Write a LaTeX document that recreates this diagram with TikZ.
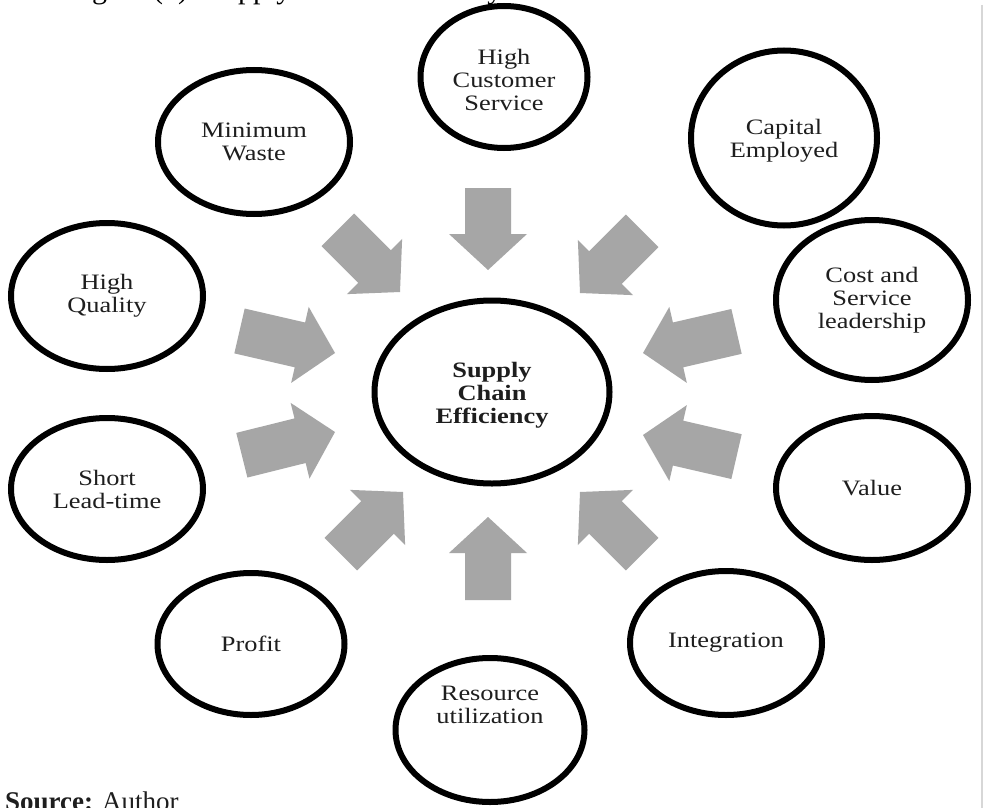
\documentclass[tikz,border=0pt]{standalone}
\usepackage{fontspec}
\setmainfont{Liberation Serif}
\newfontfamily\diagfont{Liberation Serif}[FakeStretch=1.2]
\usetikzlibrary{shapes.geometric}
\definecolor{arrowgray}{RGB}{166,166,166}
\definecolor{edgegray}{RGB}{215,215,215}
\definecolor{txt}{RGB}{30,30,30}
\newcommand\garr[3]{\fill[garrow,shift={(#1)},rotate=#2] (0,0) -- (-36,-39) -- (-36,-23) -- (-#3,-23) -- (-#3,23) -- (-36,23) -- (-36,39) -- cycle;}
% struts that move a node's text down (first line) or up (last line)
\newcommand\topstrut[1]{\rule{0pt}{#1}}
\newcommand\botstrut[1]{\rule[-#1]{0pt}{#1}}
\begin{document}
\begin{tikzpicture}[x=1pt,y=-1pt,
  bub/.style={ellipse,draw=black,line width=6pt,fill=white,inner sep=0pt,align=center,
    font=\diagfont\fontsize{22}{23}\selectfont,text=txt},
  garrow/.style={fill=arrowgray}]
\useasboundingbox (0,0) rectangle (985,808);
\clip (0,0) rectangle (985,808);
\fill[white] (0,0) rectangle (985,808);
% cropped caption and source
\node[anchor=base west,inner sep=0pt,font=\fontsize{30}{30}\selectfont,text=black] (title) at (67,-1.5) {Figure (1): Supply Chain Efficiency};
\node[anchor=base west,inner sep=0pt,font=\fontsize{27}{27}\selectfont,text=txt] (src) at (5,810) {\textbf{Source:} Author};
\draw[edgegray,line width=2pt] (982,5) -- (982,808);
% arrows
\garr{488,270}{-90}{82}
\garr{400,292}{-45}{88}
\garr{580,293}{-135}{88}
\garr{335,353}{-13}{98}
\garr{335,432}{14}{96}
\garr{403,492}{45}{88}
\garr{488,517}{90}{83}
\garr{580,492}{135}{88}
\garr{643,435}{167}{96}
\garr{643,353}{-167}{96}
% bubbles
\node[bub,minimum width=235pt,minimum height=183pt] (sce) at (492,392) {\topstrut{21pt}\textbf{Supply}\\\textbf{Chain}\\\textbf{Efficiency}};
\node[bub,minimum width=167pt,minimum height=142pt] (hcs) at (504,77) {\topstrut{22pt}High\\Customer\\Service};
\node[bub,minimum width=192pt,minimum height=144pt] (mw) at (254,142) {Minimum\\Waste};
\node[bub,minimum width=186pt,minimum height=175pt] (ce) at (784,138) {\topstrut{20pt}Capital\\Employed};
\node[bub,minimum width=192pt,minimum height=146pt] (hq) at (107,296) {High\\Quality};
\node[bub,minimum width=192pt,minimum height=160pt] (csl) at (872,300) {Cost and\\Service\\leadership};
\node[bub,minimum width=192pt,minimum height=142pt] (slt) at (107,489) {Short\\Lead-time};
\node[bub,minimum width=192pt,minimum height=144pt] (val) at (872,488) {Value};
\node[bub,minimum width=187pt,minimum height=142pt] (pro) at (251,644) {Profit};
\node[bub,minimum width=192pt,minimum height=144pt] (int) at (726,643) {Integration};
\node[bub,minimum width=189pt,minimum height=144pt] (ru) at (490,730) {Resource\\utilization\botstrut{50pt}};
\end{tikzpicture}
\end{document}
